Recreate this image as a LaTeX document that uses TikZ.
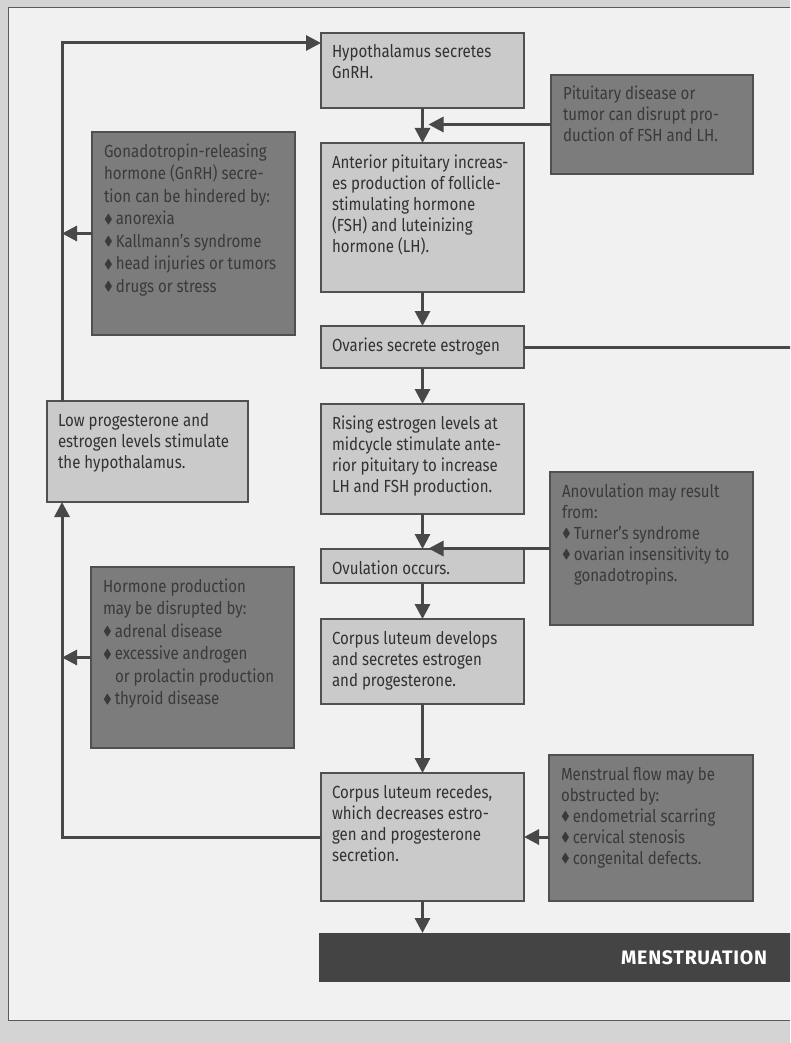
\documentclass[tikz,border=0pt]{standalone}
\usepackage{fontspec}
\usepackage{amssymb}
\usepackage{graphicx}
\setmainfont[FakeStretch=0.86]{Fira Sans}
\newfontfamily\barfont[LetterSpace=4]{Fira Sans}
\usetikzlibrary{arrows.meta,calc}
\definecolor{pagebg}{RGB}{212,212,212}
\definecolor{panel}{RGB}{241,241,241}
\definecolor{panelline}{RGB}{90,90,90}
\definecolor{mainfill}{RGB}{202,202,202}
\definecolor{maintext}{RGB}{50,50,50}
\definecolor{boxline}{RGB}{80,80,80}
\definecolor{darkfill}{RGB}{124,124,124}
\definecolor{darktext}{RGB}{58,58,58}
\definecolor{arrowcol}{RGB}{72,72,72}
\definecolor{barfill}{RGB}{68,68,68}
\newcommand{\bxt}[3]{\parbox[c][#2][t]{#1}{\raggedright\fontsize{17.5}{21}\selectfont\rule{0pt}{25pt}#3\par}}
\newcommand{\bxtw}[3]{\parbox[c][#2][t]{#1}{\raggedright\fontsize{17.5}{22.5}\selectfont\rule{0pt}{25pt}#3\par}}
\newcommand{\bul}{\raisebox{1.5pt}{\scalebox{0.75}{$\blacklozenge$}}\hspace{3pt}}
\begin{document}
\begin{tikzpicture}[x=1pt,y=-1pt,
  every node/.style={inner sep=0pt,outer sep=0pt},
  mainbox/.style={draw=boxline,line width=1.4pt,fill=mainfill,text=maintext,inner xsep=11pt,inner ysep=0pt,anchor=north west},
  darkbox/.style={mainbox,fill=darkfill,text=darktext,inner xsep=12pt},
  arr/.style={draw=arrowcol,line width=3pt,-{Triangle[length=15pt,width=15pt]}},
  ln/.style={draw=arrowcol,line width=3pt}]
\clip (0,0) rectangle (790,1043);
\fill[pagebg] (0,0) rectangle (790,1043);
\draw[panelline,fill=panel,line width=1pt] (8,8) rectangle (805,1020);

% main column
\node[mainbox] (hyp) at (321,33) {\bxt{181pt}{75pt}{Hypothalamus secretes\\GnRH.}};
\node[mainbox] (ant) at (321,143) {\bxt{181pt}{149pt}{Anterior pituitary increas-\\es production of follicle-\\stimulating hormone\\(FSH) and luteinizing\\hormone (LH).}};
\node[mainbox] (ova) at (321,326) {\bxt{181pt}{42pt}{Ovaries secrete estrogen}};
\node[mainbox] (ris) at (321,404) {\bxt{181pt}{110pt}{Rising estrogen levels at\\midcycle stimulate ante-\\rior pituitary to increase\\LH and FSH production.}};
\node[mainbox] (ovu) at (321,549) {\bxt{181pt}{34pt}{\vspace*{-4pt}Ovulation occurs.}};
\node[mainbox] (cld) at (321,619) {\bxt{181pt}{85pt}{Corpus luteum develops\\and secretes estrogen\\and progesterone.}};
\node[mainbox] (clr) at (321,773) {\bxt{181pt}{128pt}{Corpus luteum recedes,\\which decreases estro-\\gen and progesterone\\secretion.}};
\node[fill=barfill,minimum width=490pt,minimum height=49pt,anchor=north west] (men) at (319,933) {};
\node[anchor=east,text=white,font=\barfont\bfseries\fontsize{19.5}{22}\selectfont] (mentext) at (767,958) {MENSTRUATION};

% left side
\node[mainbox] (low) at (47,401) {\bxt{179pt}{101pt}{Low progesterone and\\estrogen levels stimulate\\the hypothalamus.}};
\node[darkbox] (gnrh) at (92,132) {\bxtw{179pt}{203pt}{Gonadotropin-releasing\\hormone (GnRH) secre-\\tion can be hindered by:\\\bul anorexia\\\bul Kallmann's syndrome\\\bul head injuries or tumors\\\bul drugs or stress}};
\node[darkbox] (horm) at (91,567) {\bxtw{179pt}{181pt}{Hormone production\\may be disrupted by:\\\bul adrenal disease\\\bul excessive androgen\\\hspace*{12pt}or prolactin production\\\bul thyroid disease}};

% right side
\node[darkbox] (pit) at (551,75) {\bxt{178pt}{99pt}{Pituitary disease or\\tumor can disrupt pro-\\duction of FSH and LH.}};
\node[darkbox] (anov) at (550,472) {\bxt{179pt}{153pt}{Anovulation may result\\from:\\\bul Turner's syndrome\\\bul ovarian insensitivity to\\\hspace*{12pt}gonadotropins.}};
\node[darkbox] (flow) at (549,755) {\bxt{180pt}{146pt}{Menstrual flow may be\\obstructed by:\\\bul endometrial scarring\\\bul cervical stenosis\\\bul congenital defects.}};

% main connectors
\draw[arr] (hyp.south) -- (ant.north);
\draw[arr] (ant.south) -- (ova.north);
\draw[arr] (ova.south) -- (ris.north);
\draw[arr] (ris.south) -- (ovu.north);
\draw[arr] (ovu.south) -- (cld.north);
\draw[arr] (cld.south) -- (clr.north);
\draw[arr] (clr.south) -- (clr.south |- men.north);

% side inputs
\draw[arr] (pit.west) -- ($(pit.west -| hyp.south)+(6,0)$);
\draw[arr] (anov.west) -- ($(anov.west -| ris.south)+(6,0)$);
\draw[arr] (flow.west |- clr.east) -- (clr.east);
\coordinate (offr) at (800,0);
\draw[ln] (ova.east) -- (ova.east -| offr);

% feedback loop
\coordinate (fbx) at (62,0);
\draw[arr] (clr.west) -| (low.south -| fbx);
\draw[arr] (low.north -| fbx) |- ($(hyp.north west)+(0,10)$);
\draw[arr] (gnrh.west) -- (gnrh.west -| fbx);
\draw[arr] (horm.west) -- (horm.west -| fbx);
\end{tikzpicture}
\end{document}
